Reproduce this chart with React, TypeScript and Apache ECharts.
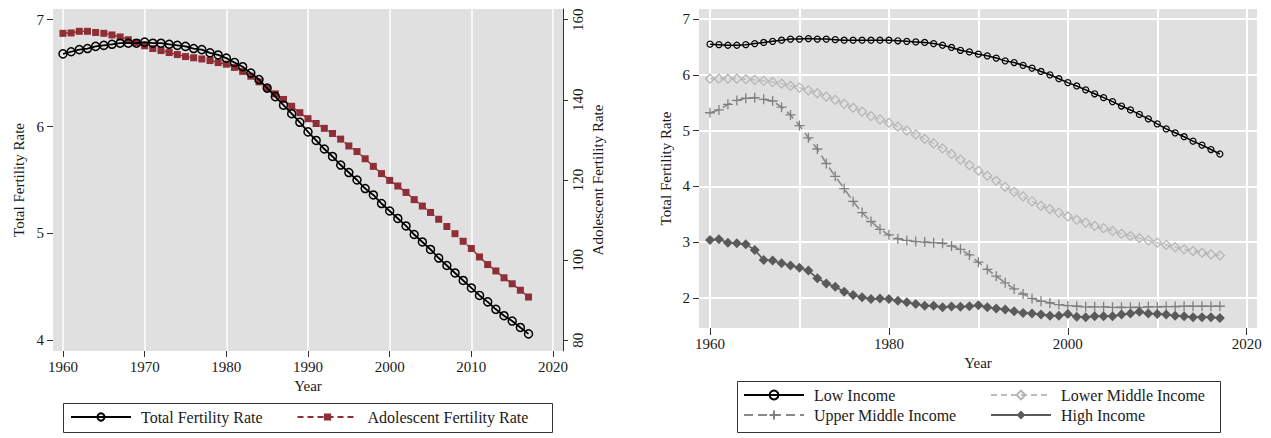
import React, { useEffect, useRef } from "react";
import * as echarts from "echarts";

const YEARS = [
  1960, 1961, 1962, 1963, 1964, 1965, 1966, 1967, 1968, 1969,
  1970, 1971, 1972, 1973, 1974, 1975, 1976, 1977, 1978, 1979,
  1980, 1981, 1982, 1983, 1984, 1985, 1986, 1987, 1988, 1989,
  1990, 1991, 1992, 1993, 1994, 1995, 1996, 1997, 1998, 1999,
  2000, 2001, 2002, 2003, 2004, 2005, 2006, 2007, 2008, 2009,
  2010, 2011, 2012, 2013, 2014, 2015, 2016, 2017,
];

const TFR = [
  6.68, 6.70, 6.72, 6.73, 6.75, 6.76, 6.77, 6.78, 6.78, 6.78,
  6.79, 6.78, 6.78, 6.77, 6.76, 6.75, 6.73, 6.72, 6.69, 6.67,
  6.64, 6.60, 6.56, 6.50, 6.44, 6.36, 6.28, 6.20, 6.12, 6.04,
  5.95, 5.87, 5.79, 5.72, 5.64, 5.57, 5.50, 5.42, 5.36, 5.28,
  5.21, 5.14, 5.07, 4.99, 4.92, 4.85, 4.77, 4.70, 4.63, 4.56,
  4.49, 4.42, 4.36, 4.29, 4.23, 4.18, 4.12, 4.06,
];

const AFR = [
  156.6, 156.7, 157.1, 157.1, 156.8, 156.6, 156.2, 155.7, 155.0, 154.3,
  153.5, 152.8, 152.3, 151.8, 151.3, 150.8, 150.5, 150.2, 149.8, 149.3,
  148.9, 148.1, 147.1, 145.9, 144.5, 142.9, 141.5, 140.1, 138.4, 136.8,
  135.3, 134.1, 132.9, 131.6, 130.2, 128.5, 127.1, 125.3, 123.4, 121.6,
  119.9, 118.5, 116.9, 115.1, 113.5, 111.9, 110.2, 108.4, 106.6, 104.7,
  102.9, 100.8, 98.9, 97.3, 95.6, 94.1, 92.5, 90.8,
];

const LOW = [
  6.55, 6.54, 6.53, 6.53, 6.54, 6.56, 6.58, 6.60, 6.62, 6.64,
  6.64, 6.65, 6.64, 6.64, 6.63, 6.62, 6.62, 6.62, 6.62, 6.62,
  6.62, 6.61, 6.60, 6.59, 6.58, 6.56, 6.53, 6.49, 6.44, 6.41,
  6.37, 6.34, 6.30, 6.25, 6.22, 6.17, 6.12, 6.06, 6.00, 5.93,
  5.86, 5.80, 5.73, 5.66, 5.59, 5.52, 5.44, 5.37, 5.29, 5.21,
  5.12, 5.03, 4.96, 4.89, 4.81, 4.74, 4.66, 4.58,
];

const LOWER_MID = [
  5.93, 5.93, 5.93, 5.93, 5.92, 5.91, 5.89, 5.87, 5.84, 5.80,
  5.77, 5.72, 5.67, 5.61, 5.55, 5.48, 5.41, 5.34, 5.26, 5.20,
  5.14, 5.07, 5.00, 4.93, 4.85, 4.77, 4.68, 4.58, 4.48, 4.38,
  4.28, 4.19, 4.10, 3.99, 3.90, 3.82, 3.73, 3.65, 3.59, 3.53,
  3.46, 3.40, 3.35, 3.29, 3.25, 3.20, 3.15, 3.11, 3.07, 3.03,
  2.99, 2.95, 2.91, 2.87, 2.84, 2.81, 2.78, 2.76,
];

const UPPER_MID = [
  5.32, 5.37, 5.47, 5.54, 5.58, 5.59, 5.56, 5.53, 5.42, 5.28,
  5.09, 4.87, 4.67, 4.41, 4.18, 3.96, 3.73, 3.53, 3.37, 3.23,
  3.13, 3.06, 3.03, 3.01, 3.00, 2.99, 2.98, 2.93, 2.87, 2.77,
  2.64, 2.51, 2.39, 2.27, 2.16, 2.07, 1.99, 1.94, 1.91, 1.88,
  1.86, 1.85, 1.84, 1.84, 1.84, 1.83, 1.83, 1.83, 1.83, 1.84,
  1.84, 1.845, 1.845, 1.85, 1.85, 1.85, 1.85, 1.85,
];

const HIGH = [
  3.04, 3.05, 2.99, 2.98, 2.96, 2.86, 2.68, 2.67, 2.62, 2.58,
  2.54, 2.49, 2.35, 2.26, 2.20, 2.11, 2.05, 2.01, 1.98, 1.99,
  1.98, 1.95, 1.92, 1.89, 1.86, 1.86, 1.83, 1.845, 1.84, 1.85,
  1.87, 1.83, 1.81, 1.79, 1.76, 1.73, 1.72, 1.70, 1.68, 1.68,
  1.71, 1.66, 1.655, 1.67, 1.67, 1.67, 1.70, 1.72, 1.75, 1.72,
  1.71, 1.70, 1.68, 1.67, 1.655, 1.655, 1.655, 1.64,
];

const X_TICKS_10 = [1960, 1970, 1980, 1990, 2000, 2010, 2020];
const X_TICKS_20 = [1960, 1980, 2000, 2020];
const Y_TICKS_TFR = [4, 5, 6, 7];
const Y_TICKS_AFR = [80, 100, 120, 140, 160];
const Y_TICKS_INC = [2, 3, 4, 5, 6, 7];

const FONT = '"Liberation Serif", "Times New Roman", serif';
const TXT = "#1a1a1a";
const BG = "#e0e0e0";

const pairs = (vals: number[]) => YEARS.map((y, i) => [y, vals[i]]);
const plain = (v: number) => String(v);

export default function App() {
  const ref = useRef<HTMLDivElement>(null);

  useEffect(() => {
    if (!ref.current) return;
    const chart = echarts.init(ref.current, undefined, { renderer: "svg" });

    const labelStyle = { color: TXT, fontSize: 15, fontFamily: FONT, formatter: plain };
    const nameStyle = { color: TXT, fontSize: 15, fontFamily: FONT };
    const tickLine = { color: "#333", width: 1 };
    const legendText = { color: TXT, fontSize: 16, fontFamily: FONT, padding: [0, 0, 0, 5] };

    const option: any = {
      animation: false,
      backgroundColor: "#fff",
      grid: [
        { left: 53, top: 9, width: 510, height: 342, show: true, backgroundColor: BG, borderWidth: 0 },
        { left: 699, top: 9, width: 558, height: 319, show: true, backgroundColor: BG, borderWidth: 0 },
      ],
      xAxis: [
        {
          gridIndex: 0, type: "value", min: 1958.78, max: 2021.22,
          name: "Year", nameLocation: "middle", nameGap: 24, nameTextStyle: nameStyle,
          axisLine: { show: false },
          axisTick: { show: true, length: 6, customValues: X_TICKS_10, lineStyle: tickLine },
          axisLabel: { customValues: X_TICKS_10, margin: 8, ...labelStyle },
          splitLine: { show: true, lineStyle: { color: "#fff", width: 1.5 } },
        },
        {
          gridIndex: 1, type: "value", min: 1958.77, max: 2021.15,
          name: "Year", nameLocation: "middle", nameGap: 26, nameTextStyle: nameStyle,
          axisLine: { show: false },
          axisTick: { show: true, length: 7, customValues: X_TICKS_20, lineStyle: tickLine },
          axisLabel: { customValues: X_TICKS_20, margin: 8, ...labelStyle },
          splitLine: { show: false },
        },
        {
          gridIndex: 1, type: "value", min: 1958.77, max: 2021.15,
          axisLine: { show: false },
          axisTick: { show: true, length: 0, customValues: X_TICKS_10, lineStyle: { color: "transparent" } },
          axisLabel: { show: false, customValues: X_TICKS_10 },
          splitLine: { show: true, lineStyle: { color: "#fff", width: 2 } },
        },
      ],
      yAxis: [
        {
          gridIndex: 0, type: "value", min: 3.9, max: 7.1,
          name: "Total Fertility Rate", nameLocation: "middle", nameGap: 27, nameRotate: 90,
          nameTextStyle: nameStyle,
          axisLine: { show: false },
          axisTick: { show: true, length: 6, customValues: Y_TICKS_TFR, lineStyle: tickLine },
          axisLabel: { customValues: Y_TICKS_TFR, margin: 9, ...labelStyle },
          splitLine: { show: false },
        },
        {
          gridIndex: 0, type: "value", position: "right", min: 77.33, max: 162.67,
          name: "Adolescent Fertility Rate", nameLocation: "middle", nameGap: 27, nameRotate: 90,
          nameTextStyle: nameStyle,
          axisLine: { show: true, lineStyle: { color: "#333", width: 1 } },
          axisTick: { show: true, length: 5, customValues: Y_TICKS_AFR, lineStyle: tickLine },
          axisLabel: { customValues: Y_TICKS_AFR, margin: 7, rotate: 90, ...labelStyle },
          splitLine: { show: false },
        },
        {
          gridIndex: 1, type: "value", min: 1.46, max: 7.18,
          name: "Total Fertility Rate", nameLocation: "middle", nameGap: 26, nameRotate: 90,
          nameTextStyle: nameStyle,
          axisLine: { show: false },
          axisTick: { show: true, length: 6, customValues: Y_TICKS_INC, lineStyle: tickLine },
          axisLabel: { customValues: Y_TICKS_INC, margin: 9, ...labelStyle },
          splitLine: { show: true, lineStyle: { color: "#fff", width: 2 } },
        },
      ],
      legend: [
        {
          data: ["Total Fertility Rate", "Adolescent Fertility Rate"],
          left: 70, top: 409, orient: "horizontal", padding: 0,
          itemWidth: 60, itemHeight: 9, itemGap: 34,
          textStyle: legendText,
        },
        {
          data: ["Low Income", "Upper Middle Income"],
          left: 743, top: 387, orient: "vertical", padding: 0,
          itemWidth: 60, itemHeight: 11, itemGap: 4,
          textStyle: legendText,
        },
        {
          data: ["Lower Middle Income", "High Income"],
          left: 990, top: 387, orient: "vertical", padding: 0,
          itemWidth: 60, itemHeight: 11, itemGap: 4,
          textStyle: legendText,
        },
      ],
      graphic: [
        { type: "rect", shape: { x: 63.5, y: 403.5, width: 489, height: 29 }, style: { fill: "none", stroke: "#333", lineWidth: 1 } },
        { type: "rect", shape: { x: 737.5, y: 381.5, width: 483, height: 51 }, style: { fill: "none", stroke: "#333", lineWidth: 1 } },
      ],
      series: [
        {
          name: "Total Fertility Rate", type: "line", xAxisIndex: 0, yAxisIndex: 0,
          data: pairs(TFR), symbol: "circle", symbolSize: 8,
          itemStyle: { color: "transparent", borderColor: "#000", borderWidth: 1.5 },
          lineStyle: { color: "#000", width: 1.8 }, z: 3,
        },
        {
          name: "Adolescent Fertility Rate", type: "line", xAxisIndex: 0, yAxisIndex: 1,
          data: pairs(AFR), symbol: "rect", symbolSize: 7,
          itemStyle: { color: "#8e2f37" },
          lineStyle: { color: "#8e2f37", width: 1.5, type: [6, 4] }, z: 2,
        },
        {
          name: "Low Income", type: "line", xAxisIndex: 1, yAxisIndex: 2,
          data: pairs(LOW), symbol: "circle", symbolSize: 6,
          itemStyle: { color: "transparent", borderColor: "#000", borderWidth: 1.2 },
          lineStyle: { color: "#000", width: 1.5 },
        },
        {
          name: "Lower Middle Income", type: "line", xAxisIndex: 1, yAxisIndex: 2,
          data: pairs(LOWER_MID), symbol: "diamond", symbolSize: 9,
          itemStyle: { color: "transparent", borderColor: "#b4b4b4", borderWidth: 1.2 },
          lineStyle: { color: "#bcbcbc", width: 1.3, type: [6, 4] },
        },
        {
          name: "Upper Middle Income", type: "line", xAxisIndex: 1, yAxisIndex: 2,
          data: pairs(UPPER_MID), symbol: "path://M5,0L5,10M0,5L10,5", symbolSize: 10,
          itemStyle: { color: "#808080", borderColor: "#808080", borderWidth: 1.3 },
          lineStyle: { color: "#8a8a8a", width: 1.6, type: [9, 5] },
        },
        {
          name: "High Income", type: "line", xAxisIndex: 1, yAxisIndex: 2,
          data: pairs(HIGH), symbol: "diamond", symbolSize: 10,
          itemStyle: { color: "#5a5a5a" },
          lineStyle: { color: "#5a5a5a", width: 1.6 },
        },
      ],
    };

    chart.setOption(option);
    return () => chart.dispose();
  }, []);

  return (
    <div
      ref={ref}
      style={{ position: "fixed", left: 0, top: 0, width: 1271, height: 438, background: "#fff" }}
    />
  );
}
